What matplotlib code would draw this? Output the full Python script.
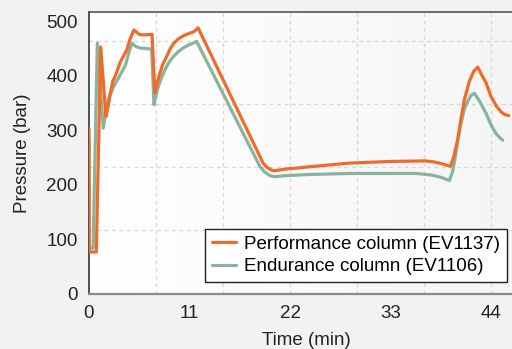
import numpy as np
import matplotlib
matplotlib.use("Agg")
import matplotlib.pyplot as plt
from matplotlib.colors import LinearSegmentedColormap

# ---- data ----
perf_t = [0.0, 0.02, 0.8, 1.28, 1.85, 2.1, 2.35, 2.6, 2.84, 3.1, 3.39, 4.15, 4.5, 4.92,
          5.5, 6.0, 6.9,
          7.21, 7.5, 7.76, 8.1, 8.49, 8.9, 9.3, 9.8, 10.3, 10.85, 11.5, 11.94,
          19.05, 19.5, 20.0, 20.3, 21.5, 24.0, 28.5, 33.0, 36.8, 37.8, 38.6, 39.55,
          39.9, 40.35, 40.7, 41.08, 41.63, 42.1, 42.54,
          43.0, 43.46, 44.0, 44.6, 45.1, 45.5, 45.94]
perf_p = [304, 77, 77, 453, 325, 345, 370, 390, 398, 410, 424, 448, 468, 484,
          476, 475, 476,
          369, 390, 405, 422, 435, 450, 460, 468, 473, 477, 481, 488,
          240, 232, 227, 226, 229, 233, 240, 243, 244, 242, 239, 234,
          250, 283, 320, 356, 390, 408, 416,
          401, 387, 362, 344, 334, 329, 327]

endu_t = [0.0, 0.02, 0.45, 0.91, 1.56, 1.8, 2.11, 2.66, 3.2, 4.0, 4.4, 4.7,
          5.1, 5.58, 6.86,
          7.11, 7.35, 7.58, 7.95, 8.31, 8.75, 9.22, 9.75, 10.31, 10.85, 11.40, 11.78,
          18.7, 19.2, 19.8, 20.3, 21.5, 24.0, 28.5, 35.8, 37.5, 38.5, 39.45,
          39.8, 40.1, 40.4, 40.72, 41.1, 41.44, 41.8, 42.18,
          42.8, 43.46, 44.0, 44.55, 45.0, 45.28]
endu_p = [282, 84, 84, 460, 304, 330, 356, 379, 395, 420, 445, 460,
          454, 451, 449,
          347, 365, 380, 397, 411, 425, 435, 444, 451, 456, 460, 463,
          234, 224, 217, 215, 217, 219, 221, 221, 218, 214, 208,
          225, 252, 285, 313, 340, 353, 364, 368,
          352, 331, 310, 294, 286, 282]

x_ticks = [0, 11, 22, 33, 44]
y_ticks = [0, 100, 200, 300, 400, 500]
x_grid = [7.33, 14.67, 22.0, 29.33, 36.67, 44.0]
y_grid = [117, 232, 348, 464]

series_labels = ["Performance column (EV1137)", "Endurance column (EV1106)"]
series_colors = ["#f26a2a", "#8ab39c"]

plt.rcParams['font.family'] = ['Liberation Sans', 'DejaVu Sans']
FS = 13.5

fig = plt.figure(figsize=(5.12, 3.49), dpi=100, facecolor="#f1f3f3")
W, H = 512, 349
ax = fig.add_axes([89 / W, 1 - 294 / H, (523 - 89) / W, (294 - 12) / H])

# subtle horizontal gradient background in the plot area
grad = np.linspace(0, 1, 256).reshape(1, -1)
cmap = LinearSegmentedColormap.from_list("bg", ["#ffffff", "#f5f5f5"])
ax.imshow(grad, extent=[0, 1, 0, 1], transform=ax.transAxes, aspect="auto",
          cmap=cmap, zorder=-10)

ax.set_xlim(0, 47.5)
ax.set_ylim(0, 517)

for gx in x_grid:
    ax.axvline(gx, color="#d6d6d6", lw=0.9, ls=(0, (3, 3)), zorder=0)
for gy in y_grid:
    ax.axhline(gy, color="#d6d6d6", lw=0.9, ls=(0, (3, 3)), zorder=0)

ax.plot(perf_t, perf_p, color=series_colors[0], lw=2.3, label=series_labels[0],
        solid_joinstyle="round", solid_capstyle="round", zorder=3)
ax.plot(endu_t, endu_p, color=series_colors[1], lw=2.3, label=series_labels[1],
        solid_joinstyle="round", solid_capstyle="round", zorder=2)

ax.set_xticks(x_ticks)
ax.set_yticks(y_ticks)
ax.tick_params(axis="both", length=0, labelsize=FS, colors="#222222", pad=8)

ax.spines["right"].set_visible(False)
ax.spines["top"].set_color("#555555")
ax.spines["top"].set_linewidth(1.2)
ax.spines["left"].set_color("#333333")
ax.spines["left"].set_linewidth(1.2)
ax.spines["bottom"].set_color("#8a8a8a")
ax.spines["bottom"].set_linewidth(1.6)

ax.set_xlabel("Time (min)", fontsize=FS, color="#222222", labelpad=7)
ax.set_ylabel("Pressure (bar)", fontsize=FS, color="#222222", labelpad=11)

leg = ax.legend(loc="lower right", bbox_to_anchor=(0.963, 0.043), fontsize=FS,
                frameon=True, fancybox=False, edgecolor="#222222",
                framealpha=1.0, handlelength=1.3, handletextpad=0.45,
                borderpad=0.35, labelspacing=0.28, borderaxespad=0)
leg.get_frame().set_linewidth(1.0)

fig.savefig("out.png", dpi=100, facecolor=fig.get_facecolor())
